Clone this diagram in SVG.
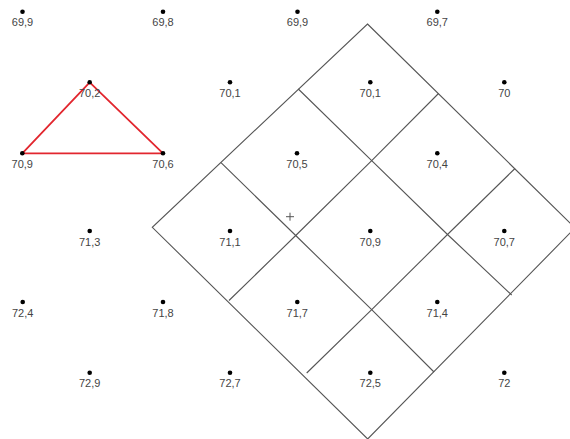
<svg xmlns="http://www.w3.org/2000/svg" width="570" height="439" viewBox="0 0 570 439">
<style>
.bg{fill:#fff}
.grid{fill:none;stroke:#555;stroke-width:1.1;stroke-linejoin:miter}
.tri{fill:none;stroke:#e2262e;stroke-width:1.8;stroke-linejoin:round}
.dot{fill:#000}
.lbl{font-family:"Liberation Sans",Arial,sans-serif;font-size:11px;fill:#444;text-anchor:middle}
.plus{stroke:#555;stroke-width:1}
</style>
<rect class="bg" x="0" y="0" width="570" height="439"/>
<g id="connectors">
<polygon class="grid" points="367.5,24 575,228 367.7,439 152.3,227.3"/>
<polyline class="grid" points="298.3,89 371.7,160.7 447.5,234.5 511.7,295"/>
<polyline class="grid" points="221,162.7 295.7,235.5 371.7,309.7 434,372"/>
<polyline class="grid" points="229,300.5 295.7,235.5 371.7,160.7 438.5,93.5"/>
<polyline class="grid" points="306.7,373 371.7,309.7 447.5,234.5 515,168.5"/>
<polygon class="tri" points="89.7,82.3 163,153.3 22.3,153.3"/>
<path class="plus" d="M286,216.7H294M290,212.7V220.7"/>
</g>
<g id="p1"><circle class="dot" cx="22.5" cy="11.7" r="2.3"/><text class="lbl" x="22.5" y="26.2">69,9</text></g>
<g id="p2"><circle class="dot" cx="163" cy="11.7" r="2.3"/><text class="lbl" x="163" y="26.2">69,8</text></g>
<g id="p3"><circle class="dot" cx="297.5" cy="11.7" r="2.3"/><text class="lbl" x="297.5" y="26.2">69,9</text></g>
<g id="p4"><circle class="dot" cx="437.3" cy="11.7" r="2.3"/><text class="lbl" x="437.3" y="26.2">69,7</text></g>
<g id="p5"><circle class="dot" cx="89.7" cy="82.3" r="2.3"/><text class="lbl" x="89.7" y="96.8">70,2</text></g>
<g id="p6"><circle class="dot" cx="230" cy="82.3" r="2.3"/><text class="lbl" x="230" y="96.8">70,1</text></g>
<g id="p7"><circle class="dot" cx="370.3" cy="82.3" r="2.3"/><text class="lbl" x="370.3" y="96.8">70,1</text></g>
<g id="p8"><circle class="dot" cx="504.3" cy="82.3" r="2.3"/><text class="lbl" x="504.3" y="96.8">70</text></g>
<g id="p9"><circle class="dot" cx="22.3" cy="153.3" r="2.3"/><text class="lbl" x="22.3" y="167.8">70,9</text></g>
<g id="p10"><circle class="dot" cx="163" cy="153.3" r="2.3"/><text class="lbl" x="163" y="167.8">70,6</text></g>
<g id="p11"><circle class="dot" cx="297" cy="153.3" r="2.3"/><text class="lbl" x="297" y="167.8">70,5</text></g>
<g id="p12"><circle class="dot" cx="437.3" cy="153.3" r="2.3"/><text class="lbl" x="437.3" y="167.8">70,4</text></g>
<g id="p13"><circle class="dot" cx="89.7" cy="231" r="2.3"/><text class="lbl" x="89.7" y="245.5">71,3</text></g>
<g id="p14"><circle class="dot" cx="230" cy="231" r="2.3"/><text class="lbl" x="230" y="245.5">71,1</text></g>
<g id="p15"><circle class="dot" cx="370.3" cy="231" r="2.3"/><text class="lbl" x="370.3" y="245.5">70,9</text></g>
<g id="p16"><circle class="dot" cx="504.3" cy="231" r="2.3"/><text class="lbl" x="504.3" y="245.5">70,7</text></g>
<g id="p17"><circle class="dot" cx="22.7" cy="302" r="2.3"/><text class="lbl" x="22.7" y="316.5">72,4</text></g>
<g id="p18"><circle class="dot" cx="163" cy="302" r="2.3"/><text class="lbl" x="163" y="316.5">71,8</text></g>
<g id="p19"><circle class="dot" cx="297.3" cy="302" r="2.3"/><text class="lbl" x="297.3" y="316.5">71,7</text></g>
<g id="p20"><circle class="dot" cx="437.3" cy="302" r="2.3"/><text class="lbl" x="437.3" y="316.5">71,4</text></g>
<g id="p21"><circle class="dot" cx="89.7" cy="372.7" r="2.3"/><text class="lbl" x="89.7" y="387.2">72,9</text></g>
<g id="p22"><circle class="dot" cx="230" cy="372.7" r="2.3"/><text class="lbl" x="230" y="387.2">72,7</text></g>
<g id="p23"><circle class="dot" cx="370.3" cy="372.7" r="2.3"/><text class="lbl" x="370.3" y="387.2">72,5</text></g>
<g id="p24"><circle class="dot" cx="504.3" cy="372.7" r="2.3"/><text class="lbl" x="504.3" y="387.2">72</text></g>
</svg>
